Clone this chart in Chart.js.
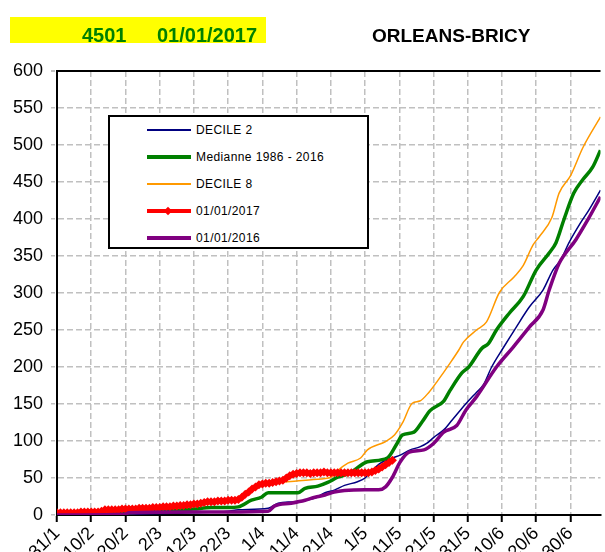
<!DOCTYPE html>
<html>
<head>
<meta charset="utf-8">
<script src="https://cdn.jsdelivr.net/npm/chart.js@4/dist/chart.umd.min.js"></script>
<style>
html,body{margin:0;padding:0;background:#fff;overflow:hidden;width:605px;height:552px;}
#wrap{position:relative;width:605px;height:600px;}
#c{position:absolute;left:0;top:0;}
.t{position:absolute;font-family:"Liberation Sans",Arial,sans-serif;font-weight:bold;white-space:nowrap;}
#ybox{position:absolute;left:10px;top:17px;width:256px;height:26px;background:#ffff00;}
.g{color:#008000;font-size:20px;line-height:20px;top:25px;}
#station{color:#000;font-size:19px;line-height:19px;top:26px;left:372px;}
#legend{position:absolute;left:108px;top:115px;width:257px;height:130px;border:2px solid #000;background:#fff;
  font-family:"Liberation Sans",Arial,sans-serif;font-size:12px;letter-spacing:0.4px;color:#000;}
.li{position:absolute;left:0;height:14px;width:255px;}
.sw{position:absolute;left:37px;width:44px;}
.lt{position:absolute;left:86px;top:0;line-height:14px;white-space:nowrap;}
.dm{position:absolute;left:55px;width:6px;height:6px;background:#ff0000;transform:rotate(45deg);}
</style>
</head>
<body>
<div id="wrap">
  <canvas id="c" width="605" height="600"></canvas>
  <div id="ybox"></div>
  <div class="t g" style="left:82px;">4501</div>
  <div class="t g" style="left:157px;">01/01/2017</div>
  <div class="t" id="station">ORLEANS-BRICY</div>
  <div id="legend"></div>
</div>
<script>
// ---- data (day offset from 31/1) ----
const xTickDays = [0,10,20,30,40,50,60,70,80,90,100,110,120,130,140,150];
const xTickLabels = ['31/1','10/2','20/2','2/3','12/3','22/3','1/4','11/4','21/4','1/5','11/5','21/5','31/5','10/6','20/6','30/6'];
const yTickValues = [0,50,100,150,200,250,300,350,400,450,500,550,600];

const seriesNames = ['DECILE 2','Medianne 1986 - 2016','DECILE 8','01/01/2017','01/01/2016'];

const decile2Days = [0,10,20,30,40,50,53,61.7,64.6,69.3,75.4,78.3,81.2,84,87.8,90,91.6,94.5,98,100.3,103.2,106,108.1,110.1,113,115.4,119.4,122.6,124.6,127,130.4,134.2,138,142,144.9,147.2,149.6,153,155.4,158.8];
const decile2 = [0,0,1,2,3,5,7,9,16,18,23,30,34,40,45,50,58,70,77,81,88,92,97,105,115,128,150,166,176,200,226,254,281,304,331,345,368,395,412,439];

const medianDays = [0,10,20,30,40,45,50,53,56.8,59.7,61.7,66,70.4,72.5,76.2,79.1,82,85.8,87.8,90.7,96.5,99.4,100.9,104.3,106.7,109,113,114.8,118.3,120.3,124.1,126.1,128.4,132.2,136.2,140,143.8,145.8,148.1,151,153.6,156.5,158.8];
const median = [0,1,3,5,8,10,10,11,20,24,30,30,30,36,39,44,51,57,64,72,77,97,108,112,126,141,154,168,192,200,225,232,250,273,295,331,354,368,399,435,453,470,493];

const decile8Days = [0,10,20,30,40,45,50,53,56,60,65,70,75,80,82,85,88.7,90.7,95.9,98.6,100.9,103.8,106,108.7,111.3,114.8,117.4,118.8,122.6,125.5,129.3,133.6,136.2,139.1,140.9,144.6,146.7,150.1,153.6,158.8];
const decile8 = [1,3,6,10,14,17,20,24,34,40,44,46,48,51,60,70,77,88,99,108,124,151,154,166,182,205,223,234,250,261,301,322,337,365,376,402,435,459,496,538];

// 2017: one value per day from 31/1
const y2017 = [3,3,3,3,3,3,3,4,4,4,4,4,4,5,
  7,7,7,7,7,8,8,8,8,8,9,9,9,9,10,10,10,
  11,11,11,12,12,13,13,14,14,15,
  15,16,17,18,18,18,19,19,19,20,
  20,20,21,24,28,
  31,35,38,41,42,
  43,43,44,45,46,47,
  50,53,55,56,
  57,57,57,56,57,57,57,58,57,57,57,57,57,57,57,57,57,57,57,57,57,
  58,60,62,65,68,71,74];

const y2016Days = [0,20,21,40,50,61.7,63.5,68.4,72.5,75.4,78.3,81,84,90,94,96,98,100.3,102.9,107.2,110.1,113,116.8,119.5,122.6,128.4,133.3,138,142,143.8,146.7,151.6,155.1,158.8];
const y2016 = [0,1,3,4,4,5,12,16,20,24,27,31,33,34,34,38,51,72,85,88,97,112,121,142,160,200,227,254,277,304,340,372,399,430];

// ---- build ----
const pts = (days, vals) => days.map((d, i) => ({x: d, y: vals[i]}));
const FONT = '"Liberation Sans", Arial, sans-serif';

const styles = [
  {color:'#000080', width:1.5, order:5},
  {color:'#008000', width:3.5, order:4},
  {color:'#FF9900', width:1.5, order:3},
  {color:'#FF0000', width:5, order:2, marker:true},
  {color:'#800080', width:3.5, order:1}
];
const dataSets = [
  pts(decile2Days, decile2),
  pts(medianDays, median),
  pts(decile8Days, decile8),
  y2017.map((v, i) => ({x: i, y: v})),
  pts(y2016Days, y2016)
];

const datasets = dataSets.map((d, i) => ({
  label: seriesNames[i],
  data: d,
  borderColor: styles[i].color,
  backgroundColor: styles[i].color,
  borderWidth: styles[i].width,
  pointRadius: styles[i].marker ? 4.5 : 0,
  pointStyle: 'rectRot',
  pointBorderWidth: 0,
  order: styles[i].order,
  fill: false,
  tension: 0,
  cubicInterpolationMode: styles[i].marker ? 'default' : 'monotone'
}));

new Chart(document.getElementById('c'), {
  type: 'line',
  data: { datasets },
  options: {
    responsive: false,
    animation: false,
    devicePixelRatio: 1,
    layout: { padding: { top: 71, right: 0, left: 0, bottom: 0 } },
    plugins: { legend: { display: false }, tooltip: { enabled: false }, title: { display: false } },
    scales: {
      x: {
        type: 'linear', min: 0, max: 158.8,
        afterBuildTicks: s => { s.ticks = xTickDays.map(v => ({value: v})); },
        afterFit: s => { s.height = 85; },
        ticks: {
          autoSkip: false, maxRotation: 45, minRotation: 45, padding: 1,
          color: '#000', font: { family: FONT, size: 18 },
          callback: v => xTickLabels[xTickDays.indexOf(v)]
        },
        grid: { color: '#c0c0c0', lineWidth: 1.5, tickLength: 7, tickColor: '#000', tickWidth: 2 },
        border: { display: true, color: '#000', width: 2, dash: [6, 3] }
      },
      y: {
        type: 'linear', min: 0, max: 600,
        afterBuildTicks: s => { s.ticks = yTickValues.map(v => ({value: v})); },
        afterFit: s => { s.width = 57; },
        ticks: { color: '#000', padding: 8, font: { family: FONT, size: 18 } },
        grid: {
          color: c => (c.tick && c.tick.value === 600) ? '#000' : '#c0c0c0',
          lineWidth: c => (c.tick && c.tick.value === 600) ? 2 : 1.5,
          tickLength: 6, tickColor: '#c0c0c0', tickBorderDash: [4, 2]
        },
        border: { display: true, color: '#000', width: 2,
          dash: c => (c.tick && c.tick.value === 600) ? [] : [6, 3] }
      }
    }
  }
});

// ---- legend (HTML) ----
const legend = document.getElementById('legend');
const rowTops = [6, 33, 60, 87, 114];
const legendWidths = [1.5, 3.5, 1.5, 4, 3.5];
seriesNames.forEach((name, i) => {
  const row = document.createElement('div');
  row.className = 'li';
  row.style.top = rowTops[i] + 'px';
  const sw = document.createElement('div');
  sw.className = 'sw';
  const h = legendWidths[i];
  sw.style.height = h + 'px';
  sw.style.top = (7 - h / 2) + 'px';
  sw.style.background = styles[i].color;
  row.appendChild(sw);
  if (styles[i].marker) {
    const dm = document.createElement('div');
    dm.className = 'dm';
    dm.style.top = '4px';
    row.appendChild(dm);
  }
  const t = document.createElement('div');
  t.className = 'lt';
  t.textContent = name;
  row.appendChild(t);
  legend.appendChild(row);
});
</script>
</body>
</html>
